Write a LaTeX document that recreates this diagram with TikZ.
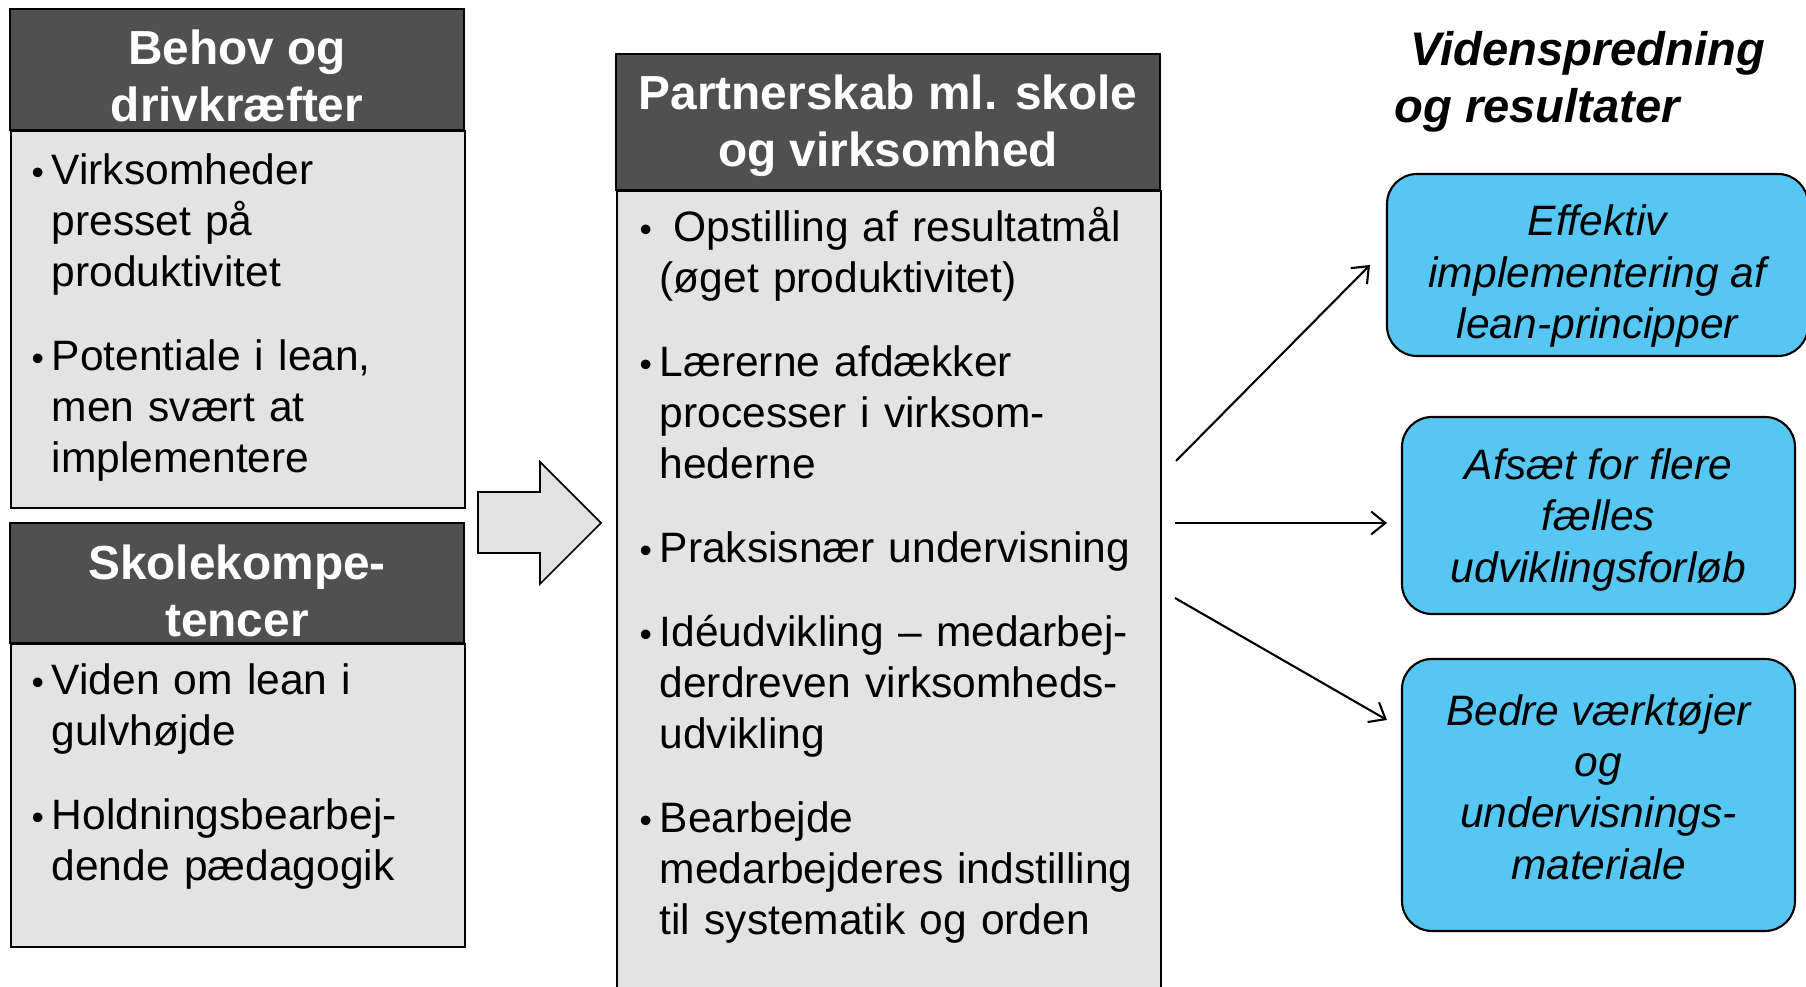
\documentclass[tikz,border=0pt]{standalone}
\usepackage{fontspec}
\setmainfont{Liberation Sans}
\usepackage{xcolor}
\usepackage{tikz}
\usetikzlibrary{arrows.meta}
\usetikzlibrary{positioning}

\definecolor{hdrgray}{RGB}{80,80,80}
\definecolor{panegray}{RGB}{227,227,227}
\definecolor{resblue}{RGB}{85,199,242}

\newcommand\hdrfont{\fontsize{13.6}{16.2}\selectfont\bfseries}
\newcommand\bodyfont{\fontsize{12.1}{14.5}\selectfont}
\newcommand\resfont{\fontsize{12.1}{14.6}\selectfont\itshape}
\newcommand\titlefont{\fontsize{13.4}{16.4}\selectfont\bfseries\itshape}

\newlength\bulind
\setlength\bulind{0.2cm}
\newcommand\bpt[1]{\par\hangindent=\bulind\hangafter=1\noindent\strut\makebox[\bulind][l]{\fontsize{10}{10}\selectfont\textbullet}#1\par}
\newcommand\bgap{\vspace{0.33cm}}

\begin{document}
\begin{tikzpicture}[
	hdrbox/.style={draw=black, line width=0.5pt, fill=hdrgray},
	hdr/.style={text=white, font=\hdrfont, align=center, inner sep=0pt},
	pane/.style={draw=black, line width=0.5pt, fill=panegray, anchor=north west, inner sep=0pt},
	bullets/.style={anchor=north west, inner sep=0pt, align=left, font=\bodyfont},
	result/.style={draw=black, line width=0.6pt, fill=resblue, rounded corners=0.3cm, align=center, font=\resfont, inner sep=0pt},
	link/.style={->, line width=0.6pt, >={Straight Barb[length=4pt,width=6.5pt]}}
	]
	\useasboundingbox (0,0) rectangle (18.06,9.87);
	
	% venstre kolonne
	\node[pane, minimum width=4.54cm, minimum height=3.77cm] (behovbody) at (0.10,8.57) {};
	\draw[hdrbox] (0.10,9.78) rectangle (4.64,8.57);
	\node[hdr] (behov) at (2.37,9.115) {Behov og\\drivkræfter};
	\node[bullets, text width=4.1cm] (behovtxt) at (0.31,8.54) {\bpt{Virksomheder\newline presset på\newline produktivitet}\bgap\bpt{Potentiale i lean,\newline men svært at\newline implementere}};
	
	\node[pane, minimum width=4.54cm, minimum height=3.03cm] (skolebody) at (0.10,3.44) {};
	\draw[hdrbox] (0.10,4.64) rectangle (4.64,3.44);
	\node[hdr] (skole) at (2.37,3.965) {Skolekompe-\\tencer};
	\node[bullets, text width=4.1cm] (skoletxt) at (0.31,3.44) {\bpt{Viden om lean i\newline gulvhøjde}\bgap\bpt{Holdningsbearbej-\newline dende pædagogik}};
	
	% blokpil
	\draw[line width=0.5pt, fill=panegray] (4.78,4.95) -- (5.40,4.95) -- (5.40,5.25) -- (6.01,4.64) -- (5.40,4.03) -- (5.40,4.34) -- (4.78,4.34) -- cycle;
	
	% midterste kolonne
	\node[pane, minimum width=5.44cm, minimum height=8.5cm] (partnerbody) at (6.16,7.97) {};
	\draw[hdrbox] (6.16,9.33) rectangle (11.60,7.97);
	\node[hdr] (partner) at (8.88,8.61) {Partnerskab ml. skole\\og virksomhed};
	\node[bullets, text width=5.1cm] (partnertxt) at (6.39,7.97) {\bpt{\ Opstilling af resultatmål\newline (øget produktivitet)}\bgap\bpt{Lærerne afdækker\newline processer i virksom-\newline hederne}\bgap\bpt{Praksisnær undervisning}\bgap\bpt{Idéudvikling – medarbej-\newline derdreven virksomheds-\newline udvikling}\bgap\bpt{Bearbejde\newline medarbejderes indstilling\newline til systematik og orden}};
	
	% hoejre kolonne
	\node[anchor=west, align=left, font=\titlefont, inner sep=0pt] (titel) at (13.94,9.05) {\hspace*{0.16cm}Videnspredning\\og resultater};
	
	\node[result, minimum width=4.21cm, minimum height=1.82cm] (effekt) at (15.975,7.22) {\rule{0pt}{15.2pt}Effektiv\\implementering af\\lean-principper};
	\node[result, minimum width=3.93cm, minimum height=1.97cm] (afsaet) at (15.985,4.715) {\rule{0pt}{11.2pt}Afsæt for flere\\fælles\\udviklingsforløb};
	\node[result, minimum width=3.93cm, minimum height=2.72cm] (bedre) at (15.985,1.92) {Bedre værktøjer\\og\\undervisnings-\\materiale\rule[-4.6pt]{0pt}{4.6pt}};
	
	\coordinate (fraA) at (11.76,5.26);
	\coordinate (fraB) at (11.75,4.64);
	\coordinate (fraC) at (11.75,3.89);
	\draw[link] (fraA) -- ([xshift=-0.16cm]effekt.west);
	\draw[link, shorten >=0.14cm] (fraB) -- (fraB -| afsaet.west);
	\draw[link] (fraC) -- ([xshift=-0.14cm,yshift=0.75cm]bedre.west);
\end{tikzpicture}
\end{document}
